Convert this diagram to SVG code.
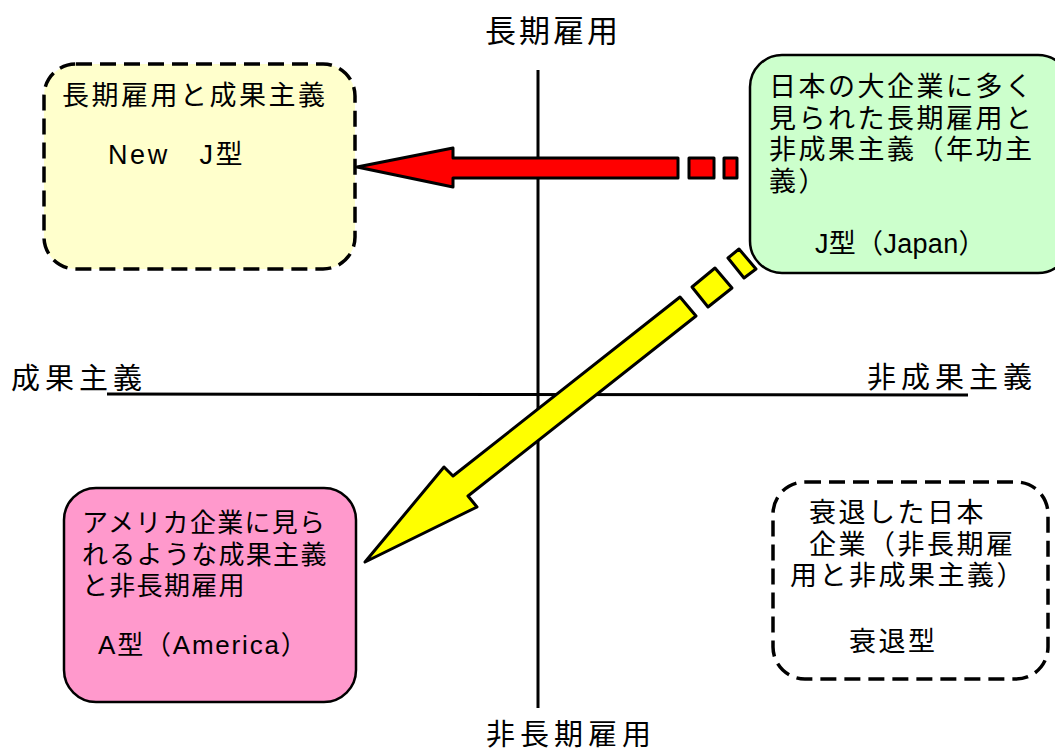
<svg xmlns="http://www.w3.org/2000/svg" width="1055" height="749" viewBox="0 0 1055 749">
<style>
text{font-family:"Liberation Sans","Noto Sans CJK JP",sans-serif;fill:#000}
.ax{font-size:29px;letter-spacing:5px}
.bx{font-size:27px;letter-spacing:2.5px}
.pk{font-size:26px;letter-spacing:1.3px}
.axis{stroke:#000;stroke-width:3;fill:none}
.dash{stroke:#000;stroke-width:3.5;stroke-dasharray:16 8}
.solid{stroke:#000;stroke-width:2.5}
.arr{stroke:#000;stroke-width:3;stroke-linejoin:round}
</style>
<rect width="1055" height="749" fill="#fff"/>
<g id="axes">
<line class="axis" x1="538" y1="70" x2="538" y2="708"/>
<line class="axis" x1="107" y1="394" x2="968" y2="395"/>
<text class="ax" x="485" y="42" style="font-size:31px;letter-spacing:3px">長期雇用</text>
<text class="ax" x="486" y="745">非長期雇用</text>
<text class="ax" x="11" y="389">成果主義</text>
<text class="ax" x="867" y="388">非成果主義</text>
</g>
<g id="node-newj">
<rect class="dash" x="44" y="64" width="311" height="205" rx="32" fill="#ffffcc"/>
<text class="bx" x="62" y="105">長期雇用と成果主義</text>
<text class="bx" x="108" y="164" textLength="137" lengthAdjust="spacing">New　J型</text>
</g>
<g id="node-j">
<rect class="solid" x="750" y="55" width="320" height="218" rx="32" fill="#ccffcc"/>
<text class="bx" x="769" y="96">日本の大企業に多く</text>
<text class="bx" x="769" y="128">見られた長期雇用と</text>
<text class="bx" x="769" y="159">非成果主義（年功主</text>
<text class="bx" x="769" y="191">義）</text>
<text class="bx" x="815" y="253" textLength="173" lengthAdjust="spacing">J型（Japan）</text>
</g>
<g id="node-a">
<rect class="solid" x="64" y="488" width="292" height="214" rx="32" fill="#ff99cc"/>
<text class="pk" x="82" y="532">アメリカ企業に見ら</text>
<text class="pk" x="82" y="564">れるような成果主義</text>
<text class="pk" x="82" y="595">と非長期雇用</text>
<text class="pk" x="98" y="654" textLength="210" lengthAdjust="spacing">A型（America）</text>
</g>
<g id="node-decline">
<rect class="dash" x="773" y="482" width="275" height="197" rx="32" fill="#fff"/>
<text class="bx" x="809" y="522">衰退した日本</text>
<text class="bx" x="809" y="554">企業（非長期雇</text>
<text class="bx" x="790" y="585">用と非成果主義）</text>
<text class="bx" x="849" y="651">衰退型</text>
</g>
<g id="connectors">
<polygon class="arr" fill="#ff0000" points="357,167 453,148 453,158 678,158 678,178 453,178 453,187"/>
<rect class="arr" fill="#ff0000" x="689" y="158" width="25" height="20"/>
<rect class="arr" fill="#ff0000" x="724" y="158" width="13" height="20"/>
<polygon class="arr" fill="#ffff00" points="365,562 444,467 453,476 680,297 696,316 468,496 477,507"/>
<polygon class="arr" fill="#ffff00" points="692,287 715,268 732,288 708,307"/>
<polygon class="arr" fill="#ffff00" points="728,258 739,249 756,269 744,278"/>
</g>
</svg>
